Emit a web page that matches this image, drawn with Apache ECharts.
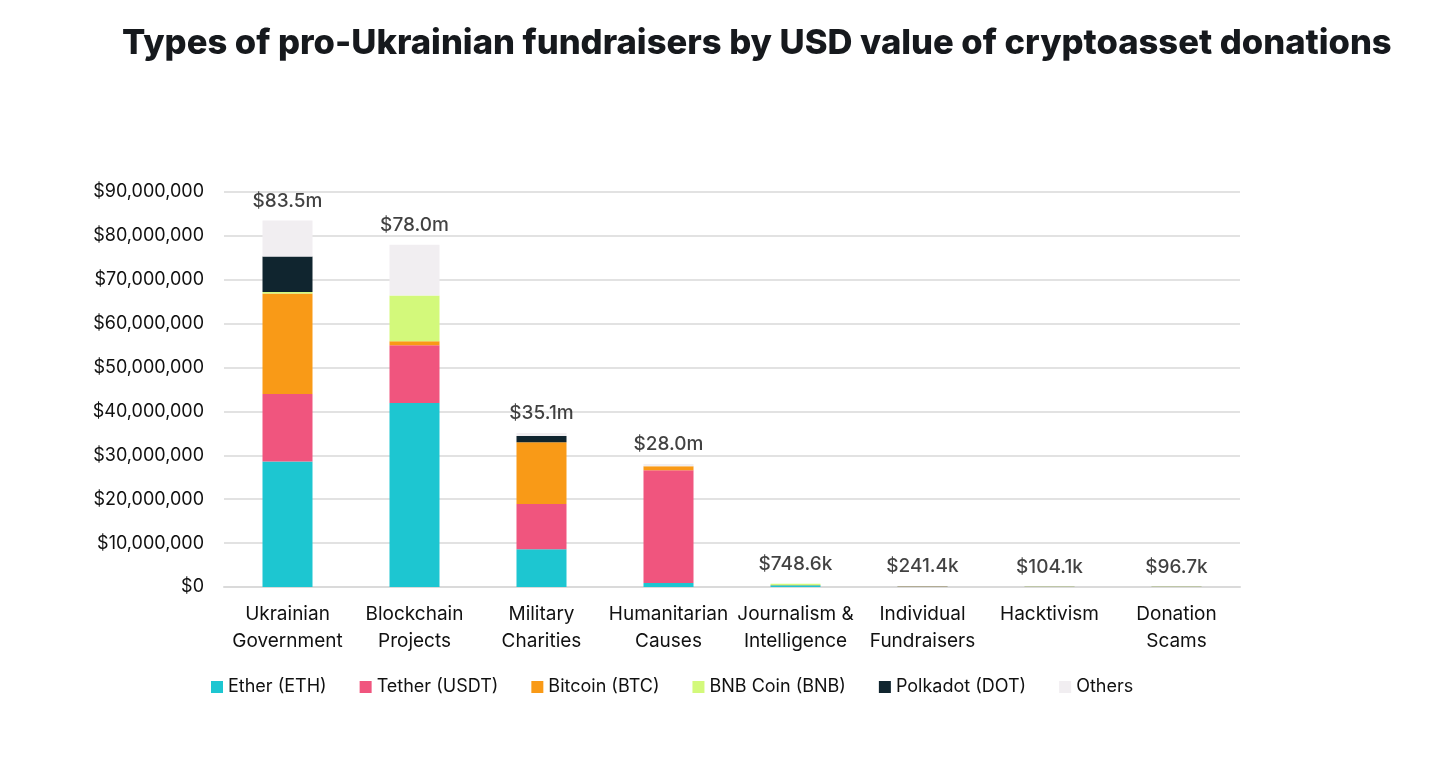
<!DOCTYPE html>
<html>
<head>
<meta charset="utf-8">
<title>Pro-Ukrainian fundraisers</title>
<script src="https://cdn.jsdelivr.net/npm/echarts@6/dist/echarts.min.js"></script>
<style>
  html, body { margin: 0; padding: 0; background: #fff; }
  #echart { width: 1456px; height: 759px; }
</style>
</head>
<body>
<div id="echart"></div>
<script>
var dom = document.getElementById("echart");
var myChart = echarts.init(dom);

var categories = ['Ukrainian\nGovernment', 'Blockchain\nProjects', 'Military\nCharities', 'Humanitarian\nCauses',
    'Journalism &\nIntelligence', 'Individual\nFundraisers', 'Hacktivism', 'Donation\nScams'];

// values in USD millions
var eth    = [28.6, 41.9, 8.6, 0.9, 0.40, 0.12, 0.05, 0.05];
var usdt   = [15.4, 13.2, 10.3, 25.7, 0.02, 0.05, 0, 0.0167];
var btc    = [22.9, 0.9, 14.1, 0.9, 0.05, 0.05, 0.04, 0.03];
var bnb    = [0.3, 10.4, 0, 0, 0.25, 0, 0, 0];
var dot    = [8.1, 0, 1.4, 0, 0, 0, 0, 0];
var others = [8.2, 11.6, 0.7, 0.5, 0.0286, 0.0214, 0.0141, 0];
var totals = [83.5, 78.0, 35.1, 28.0, 0.7486, 0.2414, 0.1041, 0.0967];

var yTicks = [0, 10, 20, 30, 40, 50, 60, 70, 80, 90];

var font = 'Inter, "Noto Sans", sans-serif';
var M = 1e6;
function toUsd(arr) { return arr.map(function (v) { return v * M; }); }
function fmtTotal(v) {
    return v >= 1 ? '$' + v.toFixed(1) + 'm' : '$' + (v * 1000).toFixed(1) + 'k';
}
function fmtAxis(v) {
    return v === 0 ? '$0' : '$' + v.toLocaleString('en-US');
}

var seriesDefs = [
    { name: 'Ether (ETH)', data: eth, color: '#1dc6d1' },
    { name: 'Tether (USDT)', data: usdt, color: '#f0557e' },
    { name: 'Bitcoin (BTC)', data: btc, color: '#f99a17' },
    { name: 'BNB Coin (BNB)', data: bnb, color: '#d3f97b' },
    { name: 'Polkadot (DOT)', data: dot, color: '#10252f' },
    { name: 'Others', data: others, color: '#f1eef1' }
];

var series = seriesDefs.map(function (s) {
    return {
        name: s.name,
        type: 'bar',
        stack: 'total',
        barWidth: 50,
        itemStyle: { color: s.color },
        data: toUsd(s.data)
    };
});

series.push({
    name: 'Total',
    type: 'scatter',
    symbolSize: 0,
    silent: true,
    data: toUsd(totals),
    label: {
        show: true,
        position: 'top',
        distance: 10,
        fontFamily: font,
        fontSize: 19,
        fontWeight: 500,
        color: '#111',
        formatter: function (p) { return fmtTotal(totals[p.dataIndex]); }
    },
    z: 10
});

var option = {
    backgroundColor: '#fff',
    animation: false,
    title: {
        text: 'Types of pro-Ukrainian fundraisers by USD value of cryptoasset donations',
        left: 117,
        top: 21,
        textStyle: {
            fontFamily: font,
            fontSize: 34.6,
            fontWeight: 800,
            color: '#16191d'
        }
    },
    legend: {
        data: seriesDefs.map(function (s) { return s.name; }),
        left: 206,
        top: 673,
        itemWidth: 12,
        itemHeight: 12,
        itemGap: 33,
        icon: 'rect',
        textStyle: { fontFamily: font, fontSize: 18, color: '#111' }
    },
    grid: {
        left: 224,
        right: 216,
        top: 192,
        bottom: 172
    },
    xAxis: {
        type: 'category',
        data: categories,
        axisTick: { show: false },
        axisLine: { show: true, lineStyle: { color: '#dadada', width: 2 } },
        axisLabel: {
            margin: 14,
            interval: 0,
            fontFamily: font,
            fontSize: 19,
            lineHeight: 27,
            color: '#111'
        }
    },
    yAxis: {
        type: 'value',
        min: yTicks[0] * M,
        max: yTicks[yTicks.length - 1] * M,
        interval: 10 * M,
        axisLine: { show: false },
        axisTick: { show: false },
        splitLine: { lineStyle: { color: '#e2e2e2', width: 2 } },
        axisLabel: {
            margin: 20,
            fontFamily: font,
            fontSize: 18,
            color: '#111',
            formatter: fmtAxis
        }
    },
    series: series
};

myChart.setOption(option);

window.addEventListener('resize', function () {
    myChart.resize();
});
</script>
</body>
</html>
